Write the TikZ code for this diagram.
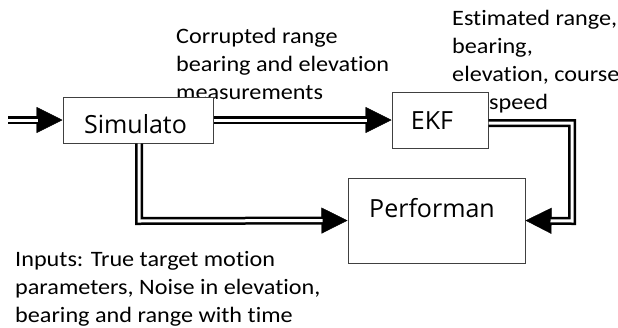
\documentclass[tikz,border=0pt]{standalone}
\usepackage{fontspec}
\setmainfont[Ligatures=NoCommon,FakeStretch=1.1]{Carlito}
\newfontfamily\boxfont{Open Sans}
\usetikzlibrary{arrows.meta}
\begin{document}
\begin{tikzpicture}[x=1pt,y=-1pt,
  blk/.style={draw=black!75,line width=1pt,fill=white,inner sep=0pt},
  lbl/.style={inner sep=0pt,anchor=base,font=\boxfont\fontsize{25}{30}\selectfont},
  note/.style={inner sep=0pt,align=left,anchor=base west,font=\fontsize{22}{28}\selectfont},
  dbl/.style={draw=black,line width=2.5pt,double=white,double distance=3pt},
  tipline/.style={draw=black,line width=0.4pt,-{Triangle[length=26pt,width=26pt]}}]
\useasboundingbox (0,0) rectangle (618,327);
% texts
\node[note] (t1) at (176,99) {Corrupted range\\bearing and elevation\\measurements};
\node[note] (t2) at (452,81) {Estimated range,\\bearing,\\elevation, course};
\node[note] (t3) at (489,109) {speed};
\node[note] (t4) at (15,322) {Inputs: True target motion\\parameters, Noise in elevation,\\bearing and range with time};
% boxes
\node[blk,minimum width=150pt,minimum height=46pt] (sim) at (138,120) {};
\node[blk,minimum width=96pt,minimum height=56pt] (ekf) at (440,120) {};
\node[blk,minimum width=177pt,minimum height=85pt] (perf) at (436.5,220.5) {};
\node[lbl] (simt) at (135.5,133) {Simulato};
\node[lbl] (ekft) at (432,129) {EKF};
\node[lbl] (perft) at (432,217) {Performan};
% connectors
\coordinate (in) at (8,120);
\coordinate (c1) at (139,221);
\coordinate (c2) at (572,123);
\coordinate (c3) at (572,221);
\draw[tipline] (in) -- (sim.west);
\draw[dbl,shorten >=25pt] (in) -- (sim.west);
\draw[tipline] (sim.east) -- (ekf.west);
\draw[dbl,shorten >=25pt] (sim.east) -- (ekf.west);
\draw[tipline] (c1) -- (perf.west);
\draw[dbl,shorten >=25pt] (sim.south -| c1) -- (c1) -- (perf.west);
\draw[tipline] (c3) -- (perf.east);
\draw[dbl,shorten >=25pt] (ekf.east |- c2) -- (c2) -- (c3) -- (perf.east);
\end{tikzpicture}
\end{document}
